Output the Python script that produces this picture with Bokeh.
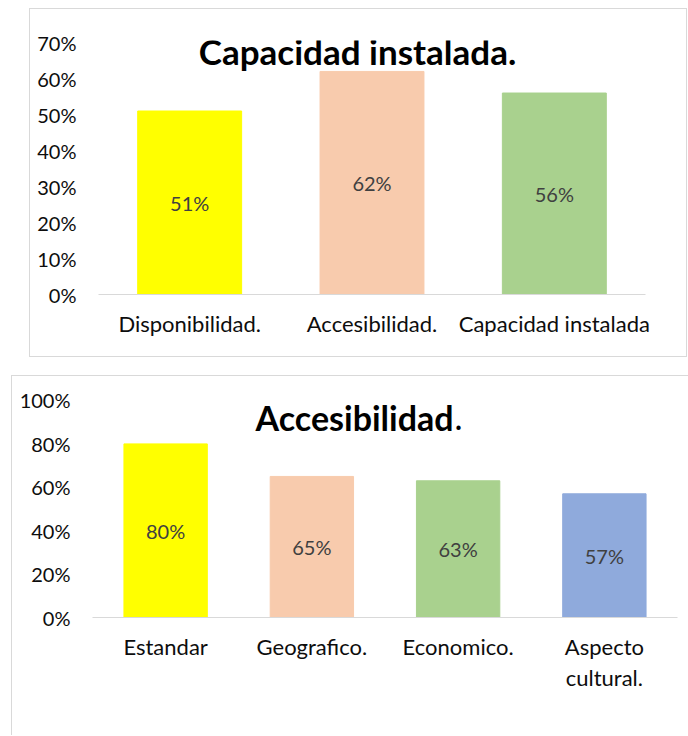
from bokeh.plotting import figure
from bokeh.models import ColumnDataSource, LabelSet, Label, FixedTicker, Range1d, NumeralTickFormatter
from bokeh.core.properties import value
from bokeh.embed import file_html
from bokeh.resources import INLINE

# ---- data: chart 1 ----
cap_title = "Capacidad instalada."
cap_categories = ["Disponibilidad.", "Accesibilidad.", "Capacidad instalada"]
cap_values = [0.51, 0.62, 0.56]
cap_colors = ["#FFFF00", "#F8CBAD", "#A9D18E"]
cap_ticks = [0.0, 0.1, 0.2, 0.3, 0.4, 0.5, 0.6, 0.7]

# ---- data: chart 2 ----
acc_title = "Accesibilidad"
acc_categories = ["Estandar", "Geografico.", "Economico.", "Aspecto\ncultural."]
acc_values = [0.80, 0.65, 0.63, 0.57]
acc_colors = ["#FFFF00", "#F8CBAD", "#A9D18E", "#8FAADC"]
acc_ticks = [0.0, 0.2, 0.4, 0.6, 0.8, 1.0]

FONT = "Lato"
TICK_COLOR = "#0d0d0d"
LABEL_COLOR = "#404040"
BORDER = "1px solid #d9d9d9"


def make_chart(cats, vals, colors, ticks, y_end, w, h, borders, styles):
    src = ColumnDataSource(dict(
        cat=cats, val=vals, color=colors,
        mid=[v / 2 for v in vals],
        txt=[f"{round(v * 100)}%" for v in vals],
    ))
    p = figure(x_range=cats, y_range=Range1d(0, y_end), width=w, height=h,
               output_backend="svg", toolbar_location=None,
               min_border_left=borders[0], min_border_right=borders[1],
               min_border_top=borders[2], min_border_bottom=borders[3],
               styles=styles)
    p.vbar(x="cat", top="val", width=0.57, color="color", source=src)
    p.add_layout(LabelSet(x="cat", y="mid", text="txt", source=src,
                          text_align="center", text_baseline="middle",
                          text_font=value(FONT), text_font_size="20px",
                          text_color=LABEL_COLOR))
    p.xgrid.visible = False
    p.ygrid.visible = False
    p.outline_line_color = None
    p.background_fill_color = "white"
    p.border_fill_color = "white"

    p.yaxis.ticker = FixedTicker(ticks=ticks)
    p.yaxis.formatter = NumeralTickFormatter(format="0%")
    p.yaxis.axis_line_color = None
    p.yaxis.major_tick_line_color = None
    p.yaxis.minor_tick_line_color = None
    p.yaxis.major_tick_out = 0
    p.yaxis.minor_tick_out = 0
    p.yaxis.major_label_standoff = 22
    p.yaxis.major_label_text_font = FONT
    p.yaxis.major_label_text_font_size = "20px"
    p.yaxis.major_label_text_color = TICK_COLOR

    p.xaxis.axis_line_color = "#d9d9d9"
    p.xaxis.axis_line_width = 1.2
    p.xaxis.major_tick_line_color = None
    p.xaxis.minor_tick_line_color = None
    p.xaxis.major_tick_out = 0
    p.xaxis.minor_tick_out = 0
    p.xaxis.major_label_standoff = 15
    p.xaxis.major_label_text_font = FONT
    p.xaxis.major_label_text_font_size = "22px"
    p.xaxis.major_label_text_line_height = 1.15
    p.xaxis.major_label_text_color = TICK_COLOR
    return p


# chart 1
p1 = make_chart(cap_categories, cap_values, cap_colors, cap_ticks, 0.706,
                658, 349, (68, 43, 31, 64), {"border": BORDER})
p1.margin = (8, 0, 0, 29)
p1.add_layout(Label(x=259, y=244, x_units="screen", y_units="screen",
                    text=cap_title, text_align="center", text_baseline="middle",
                    text_font=FONT, text_font_style="bold", text_font_size="35px",
                    text_color="black"))

# chart 2
p2 = make_chart(acc_categories, acc_values, acc_colors, acc_ticks, 1.023,
                677, 360, (80, 12, 19, 119),
                {"border-top": BORDER, "border-left": BORDER})
p2.margin = (18, 0, 0, 11)
p2.add_layout(Label(x=361, y=200, x_units="screen", y_units="screen",
                    text=acc_title, text_align="right", text_baseline="middle",
                    text_font=FONT, text_font_style="bold", text_font_size="34px",
                    text_color="black"))
p2.add_layout(Label(x=362, y=200, x_units="screen", y_units="screen",
                    text=".", text_align="left", text_baseline="middle",
                    text_font=FONT, text_font_size="34px", text_color="black"))

open("out.html", "w").write(file_html([p1, p2], INLINE))
